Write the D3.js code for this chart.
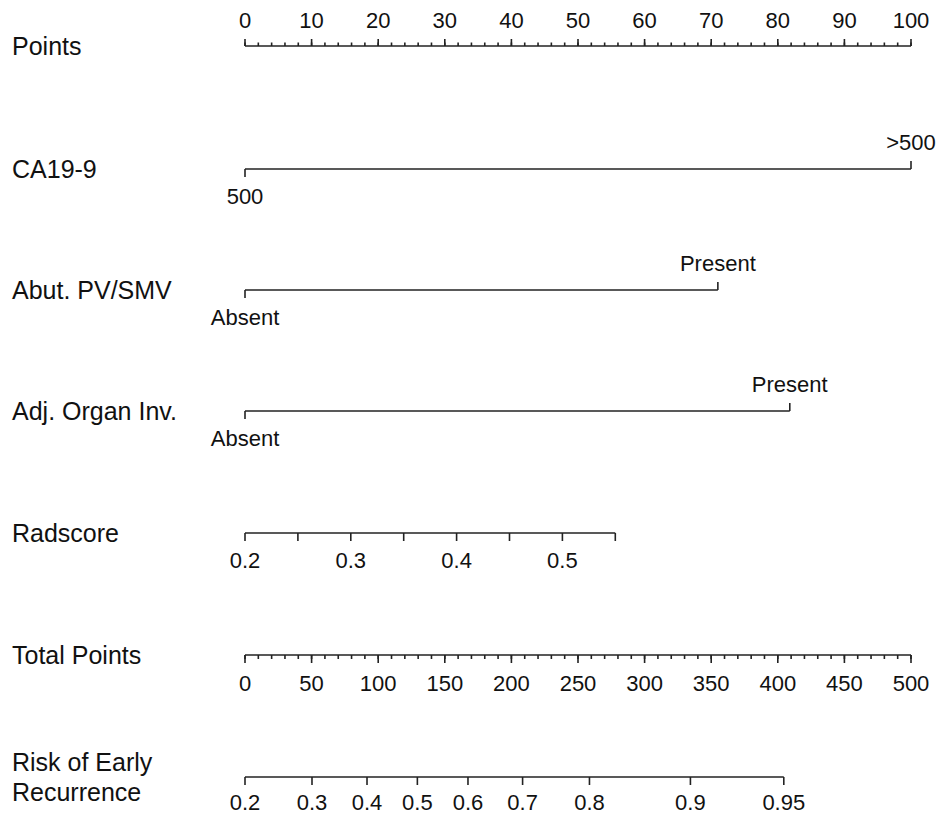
<!DOCTYPE html>
<html>
<head>
<meta charset="utf-8">
<script src="https://cdn.jsdelivr.net/npm/d3@7/dist/d3.min.js"></script>
<style>
  body { margin: 0; background: #fff; }
  text { font-family: "Liberation Sans", Arial, Helvetica, sans-serif; fill: #111; }
  .ax { stroke: #222; stroke-width: 1.6; fill: none; }
</style>
</head>
<body>
<svg id="chart" width="939" height="817"></svg>
<script>

// row names (left column)
var rowNames = [["Points"], ["CA19-9"], ["Abut. PV/SMV"], ["Adj. Organ Inv."],
                ["Radscore"], ["Total Points"], ["Risk of Early", "Recurrence"]];

// points axis
var pointMajor = [0, 10, 20, 30, 40, 50, 60, 70, 80, 90, 100];
var pointMinor = [0, 2, 4, 6, 8, 10, 12, 14, 16, 18, 20, 22, 24, 26, 28, 30, 32, 34, 36, 38, 40,
                  42, 44, 46, 48, 50, 52, 54, 56, 58, 60, 62, 64, 66, 68, 70, 72, 74, 76, 78, 80,
                  82, 84, 86, 88, 90, 92, 94, 96, 98, 100];

// categorical predictors: level labels and their points
var ca199Levels = ["500", ">500"];
var ca199Points = [0, 100];
var abutLevels = ["Absent", "Present"];
var abutPoints = [0, 71.0];
var adjLevels = ["Absent", "Present"];
var adjPoints = [0, 81.8];

// radscore: tick values, labelled values, and points range
var radTicks = [0.2, 0.25, 0.3, 0.35, 0.4, 0.45, 0.5, 0.55];
var radLabels = [0.2, 0.3, 0.4, 0.5];
var radDomain = [0.2, 0.55];
var radPointRange = [0, 55.6];

// total points axis
var totalMajor = [0, 50, 100, 150, 200, 250, 300, 350, 400, 450, 500];
var totalMinor = [0, 10, 20, 30, 40, 50, 60, 70, 80, 90, 100, 110, 120, 130, 140, 150, 160, 170,
                  180, 190, 200, 210, 220, 230, 240, 250, 260, 270, 280, 290, 300, 310, 320, 330,
                  340, 350, 360, 370, 380, 390, 400, 410, 420, 430, 440, 450, 460, 470, 480, 490, 500];

// risk of early recurrence: labels and the total points where each sits
var riskLabels = ["0.2", "0.3", "0.4", "0.5", "0.6", "0.7", "0.8", "0.9", "0.95"];
var riskTotals = [0, 50.3, 91.6, 129.4, 167.4, 208.4, 258.6, 334.4, 404.5];

var svg = d3.select('#chart');

var x = d3.scaleLinear().domain([0, 100]).range([245, 911]);
var xTotal = d3.scaleLinear().domain([0, 500]).range([245, 911]);
var radToPts = d3.scaleLinear().domain(radDomain).range(radPointRange);

var rowY = [46, 169, 290, 411, 533, 655, 777];
var labelSize = 25, tickSize = 22;

// left labels
rowNames.forEach(function(lines, i) {
  var t = svg.append('text')
    .attr('x', 12)
    .attr('font-size', labelSize);
  if (lines.length === 1) {
    t.attr('y', rowY[i] + 9).text(lines[0]);
  } else {
    t.attr('y', rowY[i] - 6).text(lines[0]);
    svg.append('text').attr('x', 12).attr('y', rowY[i] + 24)
      .attr('font-size', labelSize).text(lines[1]);
  }
});

function hline(y, x0, x1) {
  svg.append('line').attr('class', 'ax')
    .attr('x1', x0).attr('x2', x1).attr('y1', y).attr('y2', y);
}

// Points axis (ticks up, labels above)
var g0 = svg.append('g');
hline(rowY[0], x(0), x(100));
g0.selectAll('line.minor').data(pointMinor).enter().append('line')
  .attr('class', 'ax')
  .attr('x1', x).attr('x2', x)
  .attr('y1', rowY[0]).attr('y2', rowY[0] - 3.5);
g0.selectAll('line.major').data(pointMajor).enter().append('line')
  .attr('class', 'ax')
  .attr('x1', x).attr('x2', x)
  .attr('y1', rowY[0]).attr('y2', rowY[0] - 7);
g0.selectAll('text').data(pointMajor).enter().append('text')
  .attr('x', x).attr('y', 28)
  .attr('text-anchor', 'middle')
  .attr('font-size', tickSize)
  .text(function(d) { return d; });

// categorical rows: first level below, second above
function catRow(y, levels, pts) {
  hline(y, x(pts[0]), x(pts[1]));
  levels.forEach(function(lev, j) {
    var dir = j === 0 ? 1 : -1;
    svg.append('line').attr('class', 'ax')
      .attr('x1', x(pts[j])).attr('x2', x(pts[j]))
      .attr('y1', y).attr('y2', y + dir * 8);
    svg.append('text')
      .attr('x', x(pts[j]))
      .attr('y', j === 0 ? y + 35 : y - 19)
      .attr('text-anchor', 'middle')
      .attr('font-size', tickSize)
      .text(lev);
  });
}
catRow(rowY[1], ca199Levels, ca199Points);
catRow(rowY[2], abutLevels, abutPoints);
catRow(rowY[3], adjLevels, adjPoints);

// Radscore
var yr = rowY[4];
hline(yr, x(radToPts(radDomain[0])), x(radToPts(radDomain[1])));
svg.append('g').selectAll('line').data(radTicks).enter().append('line')
  .attr('class', 'ax')
  .attr('x1', function(d) { return x(radToPts(d)); })
  .attr('x2', function(d) { return x(radToPts(d)); })
  .attr('y1', yr).attr('y2', yr + 8);
svg.append('g').selectAll('text').data(radLabels).enter().append('text')
  .attr('x', function(d) { return x(radToPts(d)); })
  .attr('y', yr + 35)
  .attr('text-anchor', 'middle')
  .attr('font-size', tickSize)
  .text(function(d) { return d3.format('.1f')(d); });

// Total Points
var yt = rowY[5];
hline(yt, xTotal(0), xTotal(500));
var g5 = svg.append('g');
g5.selectAll('line.minor').data(totalMinor).enter().append('line')
  .attr('class', 'ax')
  .attr('x1', xTotal).attr('x2', xTotal)
  .attr('y1', yt).attr('y2', yt + 4);
g5.selectAll('line.major').data(totalMajor).enter().append('line')
  .attr('class', 'ax')
  .attr('x1', xTotal).attr('x2', xTotal)
  .attr('y1', yt).attr('y2', yt + 8);
g5.selectAll('text').data(totalMajor).enter().append('text')
  .attr('x', xTotal).attr('y', yt + 36)
  .attr('text-anchor', 'middle')
  .attr('font-size', tickSize)
  .text(function(d) { return d; });

// Risk of Early Recurrence
var yk = rowY[6];
hline(yk, xTotal(riskTotals[0]), xTotal(riskTotals[riskTotals.length - 1]));
var g6 = svg.append('g');
g6.selectAll('line').data(riskTotals).enter().append('line')
  .attr('class', 'ax')
  .attr('x1', xTotal).attr('x2', xTotal)
  .attr('y1', yk).attr('y2', yk + 8);
g6.selectAll('text').data(riskLabels).enter().append('text')
  .attr('x', function(d, i) { return xTotal(riskTotals[i]); })
  .attr('y', yk + 33)
  .attr('text-anchor', 'middle')
  .attr('font-size', tickSize)
  .text(function(d) { return d; });

</script>
</body>
</html>
